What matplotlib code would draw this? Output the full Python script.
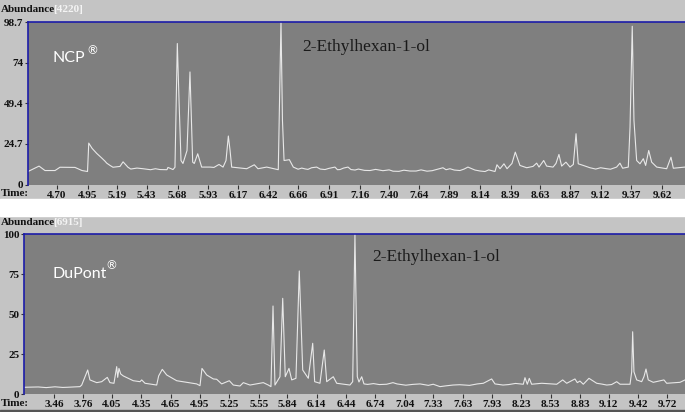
import matplotlib
matplotlib.use("Agg")
import matplotlib.pyplot as plt
from matplotlib.patches import Rectangle

# ---- data ----
ncp_time = [4.464, 4.554, 4.602, 4.684, 4.724, 4.846, 4.903, 4.948, 4.958, 4.985,
            5.023, 5.058, 5.090, 5.104, 5.131, 5.155, 5.212, 5.237, 5.277, 5.399,
            5.537, 5.594, 5.602, 5.643, 5.659, 5.678, 5.692, 5.708, 5.724, 5.757,
            5.781, 5.793, 5.803, 5.816, 5.844, 5.876, 5.944, 5.976, 6.017, 6.050,
            6.074, 6.093, 6.107, 6.120, 6.242, 6.304, 6.334, 6.405, 6.499, 6.521,
            6.533, 6.546, 6.589, 6.621, 6.716, 6.811, 6.879, 6.960, 7.001, 7.066,
            7.123, 7.245, 7.432, 7.570, 7.708, 7.838, 7.863, 7.895, 7.976, 8.041,
            8.098, 8.180, 8.261, 8.277, 8.302, 8.334, 8.359, 8.399, 8.426, 8.464,
            8.519, 8.570, 8.600, 8.619, 8.657, 8.681, 8.733, 8.757, 8.781, 8.803,
            8.838, 8.871, 8.898, 8.920, 8.938, 8.979, 9.033, 9.169, 9.250, 9.277,
            9.299, 9.345, 9.359, 9.377, 9.391, 9.413, 9.440, 9.467, 9.486, 9.511,
            9.535, 9.576, 9.657, 9.692, 9.711, 9.806]
ncp_abund = [7.9, 11.2, 8.5, 8.5, 10.5, 10.4, 8.5, 7.9, 25.2, 22.0,
             18.9, 16.5, 14.2, 13.0, 11.6, 10.5, 11.0, 13.8, 10.5, 9.6,
             9.1, 9.0, 10.4, 9.1, 10.5, 85.8, 51.2, 14.6, 12.8, 20.7,
             68.5, 39.0, 13.6, 12.8, 18.7, 10.6, 10.6, 10.4, 12.2, 10.6,
             14.6, 29.5, 20.7, 10.6, 9.6, 12.0, 9.6, 10.6, 9.0, 99.5,
             39.0, 14.6, 15.1, 10.6, 9.5, 10.6, 9.1, 10.6, 9.1, 10.6,
             8.8, 8.5, 8.1, 8.2, 8.1, 10.2, 9.0, 9.6, 8.5, 10.6,
             8.8, 7.9, 7.9, 12.0, 9.6, 12.6, 9.6, 12.8, 19.7, 11.6,
             10.2, 11.0, 13.0, 10.6, 14.6, 11.2, 10.6, 12.8, 18.3, 11.2,
             13.6, 10.6, 12.2, 30.9, 12.6, 11.6, 10.2, 9.6, 10.6, 13.0,
             9.9, 10.6, 34.9, 96.3, 39.0, 14.6, 12.6, 15.7, 11.6, 20.7,
             13.6, 10.6, 9.6, 16.6, 9.9, 10.6]
# small wiggles of the flat stretch between 6.6 and 8.3 min
ncp_wiggle_time = [5.30, 5.35, 5.46, 5.50, 6.66, 6.69, 6.74, 6.77, 6.84, 6.91,
                   6.98, 7.03, 7.09, 7.15, 7.20, 7.29, 7.35, 7.40, 7.48, 7.52,
                   7.62, 7.66, 7.75, 7.93, 8.01, 8.14, 8.21, 9.08, 9.12, 9.20]
ncp_wiggle_abund = [9.4, 10.0, 9.0, 9.6, 9.3, 10.0, 9.2, 10.2, 9.4, 9.8,
                    9.0, 10.0, 9.1, 9.4, 8.6, 9.2, 8.4, 8.9, 8.0, 8.7,
                    8.2, 8.9, 8.4, 8.8, 9.4, 8.2, 8.9, 9.4, 10.2, 9.3]

dupont_time = [3.154, 3.593, 3.725, 3.743, 3.804, 3.827, 3.896, 3.947, 4.004, 4.031,
               4.072, 4.100, 4.110, 4.123, 4.141, 4.167, 4.269, 4.338, 4.355, 4.389,
               4.508, 4.528, 4.565, 4.610, 4.712, 4.814, 4.916, 4.950, 4.970, 5.018,
               5.086, 5.120, 5.171, 5.249, 5.290, 5.358, 5.392, 5.460, 5.596, 5.647,
               5.674, 5.695, 5.715, 5.766, 5.794, 5.820, 5.858, 5.886, 5.929, 5.963,
               5.998, 6.055, 6.100, 6.120, 6.174, 6.218, 6.243, 6.310, 6.345, 6.480,
               6.508, 6.531, 6.555, 6.572, 6.600, 6.623, 6.855, 6.919, 7.195, 7.399,
               7.531, 7.841, 7.926, 7.960, 8.042, 8.249, 8.266, 8.290, 8.310, 8.334,
               8.437, 8.590, 8.651, 8.692, 8.776, 8.800, 8.827, 8.861, 8.919, 8.998,
               9.100, 9.202, 9.236, 9.338, 9.355, 9.365, 9.378, 9.406, 9.457, 9.480,
               9.501, 9.524, 9.575, 9.684, 9.712, 9.848, 9.899]
dupont_abund = [4.2, 4.2, 4.6, 5.6, 15.0, 8.8, 7.1, 7.7, 10.4, 7.1,
                6.7, 17.1, 10.4, 16.0, 12.5, 11.3, 8.3, 7.7, 8.8, 6.7,
                5.6, 11.3, 15.4, 11.9, 8.3, 7.3, 6.3, 5.2, 16.0, 11.9,
                9.4, 9.2, 6.3, 8.3, 5.6, 5.0, 7.1, 5.6, 7.1, 5.6,
                4.6, 55.0, 5.6, 10.8, 59.8, 10.8, 16.0, 8.8, 9.8, 76.9,
                15.0, 9.8, 31.7, 7.7, 6.7, 27.5, 7.7, 10.8, 6.7, 5.6,
                7.7, 100.0, 10.8, 7.5, 10.8, 6.3, 6.1, 7.1, 6.3, 4.6,
                5.6, 6.7, 9.4, 6.3, 5.6, 6.1, 10.2, 6.1, 9.8, 6.1,
                6.7, 6.1, 8.8, 6.7, 9.4, 7.1, 8.1, 6.1, 9.8, 6.7,
                5.6, 7.7, 6.1, 6.1, 13.9, 38.9, 13.9, 8.8, 7.7, 10.8,
                15.6, 8.8, 7.3, 8.8, 6.7, 7.3, 8.8]
dupont_wiggle_time = [3.30, 3.38, 3.47, 3.55, 6.66, 6.72, 6.78, 6.96, 7.05, 7.12,
                      7.28, 7.33, 7.46, 7.60, 7.70, 7.78, 8.10, 8.17, 9.05, 9.15]
dupont_wiggle_abund = [4.4, 4.0, 4.5, 4.1, 6.0, 6.5, 5.9, 6.3, 5.5, 6.0,
                       5.4, 6.1, 5.1, 5.8, 5.4, 6.3, 5.9, 6.6, 6.2, 5.9]

ncp_ticks = [4.70, 4.95, 5.19, 5.43, 5.68, 5.93, 6.17, 6.42, 6.66, 6.91, 7.16,
             7.40, 7.64, 7.89, 8.14, 8.39, 8.63, 8.87, 9.12, 9.37, 9.62]
dupont_ticks = [3.46, 3.76, 4.05, 4.35, 4.65, 4.95, 5.25, 5.55, 5.84, 6.14, 6.44,
                6.74, 7.04, 7.33, 7.63, 7.93, 8.23, 8.53, 8.83, 9.12, 9.42, 9.72]
ncp_yticks = [0, 24.7, 49.4, 74, 98.7]
dupont_yticks = [0, 25, 50, 75, 100]

W, H = 685, 412
PANEL = "#c4c4c4"
PLOT = "#7f7f7f"
TRACE = "#e8e8e8"
BLUE = "#1c1ca8"
SERIF = "Liberation Serif"


def fx(x):
    return x / W


def fy(y):
    return 1 - y / H


def merge(t1, a1, t2, a2):
    """met les points lus et les petites oscillations dans l'ordre du temps"""
    pts = sorted(zip(t1 + t2, a1 + a2))
    return [p[0] for p in pts], [p[1] for p in pts]


def panel(fig, rect, t, a, xt, yt, xlim, ylim):
    ax = fig.add_axes(rect)
    ax.set_facecolor(PLOT)
    ax.plot(t, a, color=TRACE, lw=0.8)
    ax.set_xlim(*xlim)
    ax.set_ylim(*ylim)
    ax.set_xticks(xt)
    ax.set_xticklabels(["%.2f" % v for v in xt])
    ax.set_yticks(yt)
    ax.set_yticklabels(["%g" % v for v in yt])
    for s in ["bottom", "right"]:
        ax.spines[s].set_visible(False)
    for s in ["top", "left"]:
        ax.spines[s].set_color(BLUE)
        ax.spines[s].set_linewidth(1.2)
    ax.tick_params(axis="x", direction="out", length=3, width=0.8,
                   color="#333333", pad=1.5)
    ax.tick_params(axis="y", direction="out", length=2.5, width=0.8,
                   color="#333333", pad=0.8)
    for lab in ax.get_xticklabels() + ax.get_yticklabels():
        lab.set_family(SERIF)
        lab.set_fontweight("bold")
        lab.set_fontsize(8)
        lab.set_color("#111111")
    return ax


fig = plt.figure(figsize=(W / 100, H / 100), dpi=100)
fig.patch.set_facecolor(PANEL)

# white band between the two screenshots + dark border line at the bottom
fig.patches.append(Rectangle((0, fy(216)), 1, (216 - 199) / H,
                             transform=fig.transFigure, color="white", zorder=0))
fig.patches.append(Rectangle((0, fy(411)), 1, 1.5 / H,
                             transform=fig.transFigure, color="#555555", zorder=0))

t1, a1 = merge(ncp_time, ncp_abund, ncp_wiggle_time, ncp_wiggle_abund)
t2, a2 = merge(dupont_time, dupont_abund, dupont_wiggle_time, dupont_wiggle_abund)

top = panel(fig, [fx(28), fy(184.5), 1 - fx(28), (184.5 - 21.5) / H],
            t1, a1, ncp_ticks, ncp_yticks, (4.464, 9.806), (0, 99.2))
bot = panel(fig, [fx(24), fy(394), 1 - fx(24), (394 - 234) / H],
            t2, a2, dupont_ticks, dupont_yticks, (3.154, 9.899), (0, 100))

hdr = dict(family=SERIF, fontweight="bold", fontsize=8, va="center", color="#111111")
fig.text(fx(1), fy(10), "Abundance", **hdr)
fig.text(fx(53), fy(10), "[4220]", **dict(hdr, color="#f4f4f4"))
fig.text(fx(1), fy(222.5), "Abundance", **hdr)
fig.text(fx(53), fy(222.5), "[6915]", **dict(hdr, color="#f4f4f4"))
fig.text(fx(1), fy(193.5), "Time:", **hdr)
fig.text(fx(1), fy(404), "Time:", **hdr)

lbl = dict(family="Lato", color="white", va="center")
fig.text(fx(53), fy(58), "NCP", fontsize=11.5, **lbl)
fig.text(fx(87), fy(51), "\u00ae", fontsize=8.5, **lbl)
fig.text(fx(53), fy(274), "DuPont", fontsize=11.5, **lbl)
fig.text(fx(106), fy(266), "\u00ae", fontsize=8.5, **lbl)

cmp = dict(family=SERIF, fontsize=12.5, color="#1a1a1a", va="center")
fig.text(fx(302), fy(47), "2-Ethylhexan-1-ol", **cmp)
fig.text(fx(372), fy(257), "2-Ethylhexan-1-ol", **cmp)

fig.savefig("out.png", dpi=100, facecolor=fig.get_facecolor())
